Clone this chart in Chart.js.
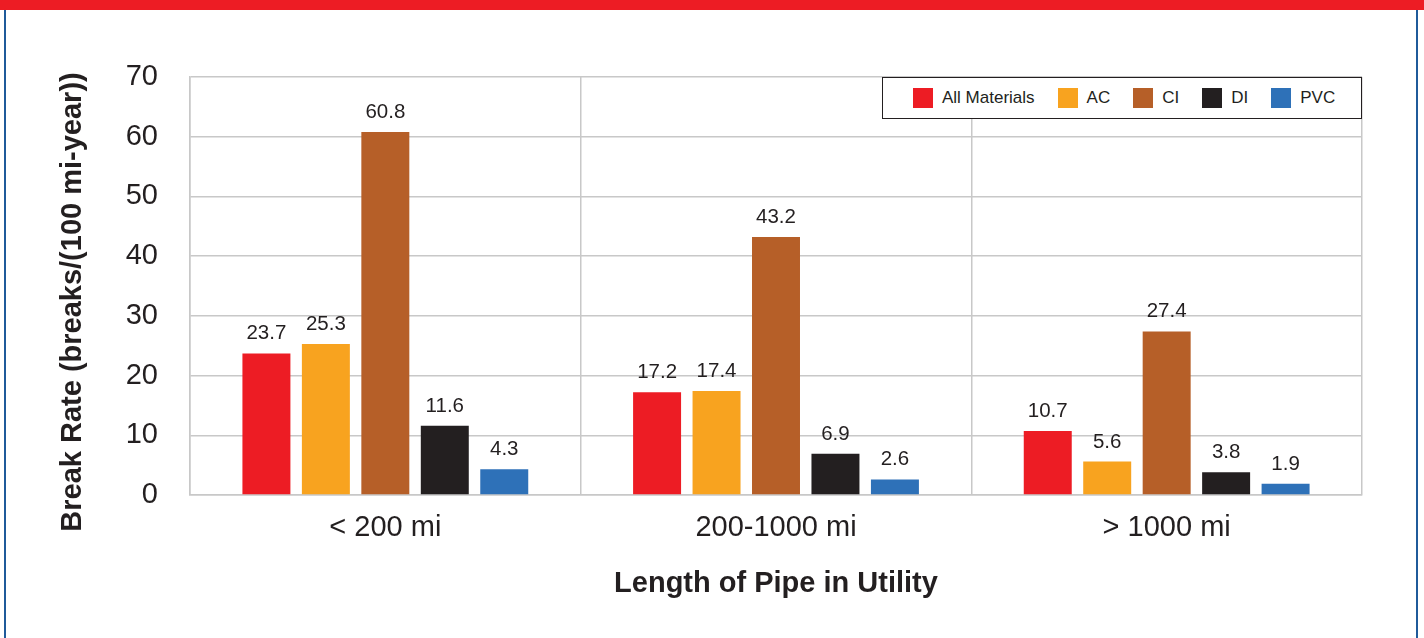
<!DOCTYPE html>
<html>
<head>
<meta charset="utf-8">
<script src="https://cdn.jsdelivr.net/npm/chart.js@4"></script>
<style>
  html, body { margin: 0; padding: 0; background: #fff; }
  body { width: 1424px; height: 638px; position: relative; overflow: hidden; font-family: 'Liberation Sans', Arial, sans-serif; }
  .topband { position: absolute; left: 0; top: 0; width: 1424px; height: 10px; background: #ed1c24; }
  .side { position: absolute; top: 10px; bottom: 0; width: 2px; background: #1f5a9a; }
  .wrap { position: absolute; left: 0; top: 0; width: 1424px; height: 638px; }
  .legend {
    position: absolute; left: 882px; top: 77px; width: 478px; height: 40px;
    border: 1.5px solid #231f20; background: #fff; box-sizing: content-box;
    display: flex; align-items: center;
  }
  .legend .item { display: flex; align-items: center; font-size: 17px; color: #231f20; margin-right: 23px; }
  .legend .item:first-child { margin-left: 30px; }
  .legend .sw { width: 20px; height: 20px; margin-right: 9px; }
</style>
</head>
<body>
<div class="topband"></div>
<div class="side" style="left:4px"></div>
<div class="side" style="left:1416px"></div>
<div class="wrap"><canvas id="chart"></canvas></div>
<div class="legend" id="legend"></div>
<script>
// データ
const categories = ['< 200 mi', '200-1000 mi', '> 1000 mi'];
const materials = ['All Materials', 'AC', 'CI', 'DI', 'PVC'];
const allMaterials = [23.7, 17.2, 10.7];
const acRates = [25.3, 17.4, 5.6];
const ciRates = [60.8, 43.2, 27.4];
const diRates = [11.6, 6.9, 3.8];
const pvcRates = [4.3, 2.6, 1.9];
const yTicks = [0, 10, 20, 30, 40, 50, 60, 70];

const COLORS = ['#ed1c24', '#f8a31f', '#b65f28', '#231f20', '#2e71b8'];
const FONT = "'Liberation Sans', Arial, sans-serif";
const TEXT = '#231f20';

const seriesValues = [allMaterials, acRates, ciRates, diRates, pvcRates];

// 凡例（HTML）
const legendEl = document.getElementById('legend');
materials.forEach((m, i) => {
  const it = document.createElement('div');
  it.className = 'item';
  it.innerHTML = `<span class="sw" style="background:${COLORS[i]}"></span><span>${m}</span>`;
  legendEl.appendChild(it);
});

// 棒の上に値を描く
const valueLabels = {
  id: 'valueLabels',
  afterDatasetsDraw(chart) {
    const { ctx } = chart;
    ctx.save();
    ctx.font = `20.5px ${FONT}`;
    ctx.fillStyle = TEXT;
    ctx.textAlign = 'center';
    ctx.textBaseline = 'alphabetic';
    chart.data.datasets.forEach((ds, di) => {
      chart.getDatasetMeta(di).data.forEach((bar, i) => {
        ctx.fillText(ds.data[i].toFixed(1), bar.x, bar.y - 14);
      });
    });
    ctx.restore();
  },
};

// Y軸タイトル
const yTitle = {
  id: 'yTitle',
  afterDraw(chart) {
    const { ctx } = chart;
    ctx.save();
    ctx.translate(73, 302);
    ctx.rotate(-Math.PI / 2);
    ctx.font = `bold 29px ${FONT}`;
    ctx.fillStyle = TEXT;
    ctx.textAlign = 'center';
    ctx.textBaseline = 'middle';
    ctx.fillText('Break Rate (breaks/(100 mi-year))', 0, 0);
    ctx.restore();
  },
};

new Chart(document.getElementById('chart'), {
  type: 'bar',
  data: {
    labels: categories,
    datasets: materials.map((m, i) => ({
      label: m,
      data: seriesValues[i],
      backgroundColor: COLORS[i],
      borderWidth: 0,
      categoryPercentage: 0.761,
      barPercentage: 0.807,
    })),
  },
  options: {
    responsive: true,
    maintainAspectRatio: false,
    animation: false,
    layout: { padding: { top: 77, right: 62, left: 0, bottom: 0 } },
    scales: {
      x: {
        grid: { color: '#c8c8c8', lineWidth: 1.5, drawTicks: false },
        border: { color: '#c8c8c8', width: 1.5 },
        ticks: { color: TEXT, font: { family: FONT, size: 29 }, padding: 16 },
        title: {
          display: true,
          text: 'Length of Pipe in Utility',
          color: TEXT,
          font: { family: FONT, size: 29, weight: 'bold' },
          padding: { top: 0, bottom: 37 },
        },
        afterFit: s => { s.height = 143; },
      },
      y: {
        min: 0,
        max: 70,
        afterBuildTicks: s => { s.ticks = yTicks.map(v => ({ value: v })); },
        grid: { color: '#c8c8c8', lineWidth: 1.5, drawTicks: false },
        border: { color: '#c8c8c8', width: 1.5 },
        ticks: { color: TEXT, font: { family: FONT, size: 29 }, padding: 32 },
        afterFit: s => { s.width = 190; },
      },
    },
    plugins: {
      legend: { display: false },
      tooltip: { enabled: false },
    },
  },
  plugins: [valueLabels, yTitle],
});
</script>
</body>
</html>
